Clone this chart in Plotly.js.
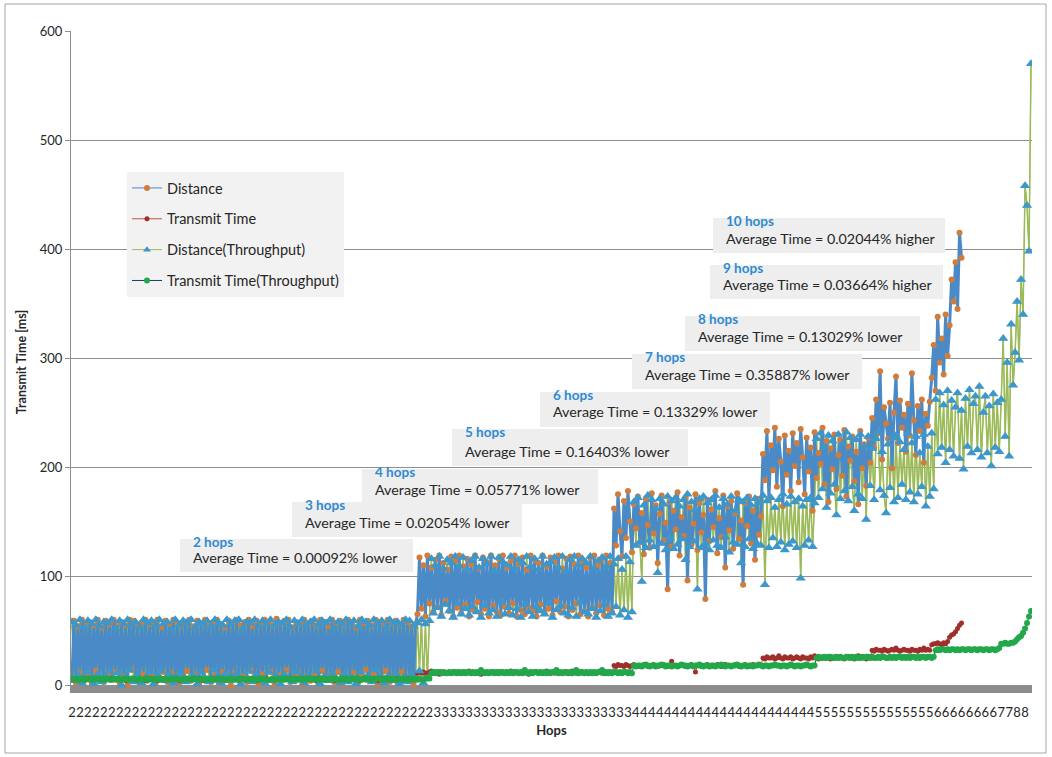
<!DOCTYPE html>
<html><head><meta charset="utf-8">
<script src="https://cdn.plot.ly/plotly-3.0.1.min.js"></script>
<style>html,body{margin:0;padding:0;background:#fff}#chart{width:1052px;height:757px}</style>
</head><body><div id="chart"></div>
<script>
// x categories: hop count (throughput routing) per data point
const hopLevels = [2, 3, 4, 5, 6, 7, 8];
const pointsPerHop = [181, 102, 92, 60, 33, 8, 8];

// Distance (shortest distance routing) - transmit time [ms]
const distance = [
6,59,2,54,11,60,4,57,9,58,1,55,13,60,7,53,3,59,10,56,
5,60,12,57,2,58,8,55,0,60,14,59,6,54,3,57,10,60,4,56,
9,58,1,60,7,53,12,59,3,56,11,60,5,57,2,55,8,58,13,60,
4,54,10,59,1,57,6,60,14,55,3,58,9,60,2,56,12,53,7,59,
0,57,11,60,5,55,8,58,3,60,13,54,6,59,1,56,10,60,4,58,
12,55,2,61,9,57,5,59,14,60,3,53,7,58,11,56,1,60,8,57,
4,59,10,55,2,60,13,58,6,54,9,60,3,57,12,59,1,56,7,60,
5,58,11,53,2,60,8,57,14,59,4,55,10,60,1,58,6,56,13,60,
3,57,9,59,2,55,12,60,5,58,8,54,1,56,
65,117,70,110,63,119,75,108,67,115,72,119,64,112,77,106,68,118,63,114,
71,119,66,109,74,116,63,111,69,119,76,107,65,117,70,113,63,119,73,110,
67,116,64,119,72,108,66,114,75,119,63,111,69,117,65,106,71,119,68,115,
63,112,74,119,66,109,70,117,64,113,77,119,67,107,72,116,63,118,69,111,
75,119,65,114,68,108,63,117,71,119,66,110,73,116,64,119,70,112,67,
162,128,175,141,118,169,135,178,150,122,166,144,173,131,158,120,171,147,126,176,
139,165,112,157,174,133,149,88,168,127,160,143,177,119,154,137,172,96,163,129,
148,175,124,167,140,156,79,170,132,161,145,178,121,153,136,174,108,164,142,169,
125,158,176,134,151,92,167,146,173,130,160,115,171,138,155,
212,188,233,171,220,197,236,182,226,205,164,229,193,215,178,231,201,222,186,235,
209,175,227,196,218,160,232,190,213,203,236,184,224,168,217,198,230,180,211,225,
192,234,173,219,206,228,187,214,166,233,199,221,183,227,204,
245,218,262,231,288,207,255,240,226,259,199,250,283,222,261,236,248,214,258,229,
286,243,211,256,233,262,204,249,238,260,
282,312,270,338,296,318,285,340,302,
330,372,352,388,345,415,392
];

// Transmit Time (shortest distance routing) [ms]
const transmitTime = [
5,6,5,5,6,5,4,6,5,5,6,5,6,5,5,6,4,5,6,5,
6,5,5,6,5,5,6,4,5,6,5,5,6,5,6,5,5,4,6,5,
5,6,5,4,5,6,5,6,5,5,6,5,5,6,4,5,6,5,5,6,
5,5,6,5,6,5,4,5,6,5,5,6,5,5,6,5,6,4,5,5,
6,5,5,6,4,5,6,5,5,6,5,6,5,4,5,6,5,5,6,5,
5,6,4,5,6,5,5,6,5,5,6,4,5,6,5,6,5,5,6,5,
6,5,5,4,6,5,6,5,5,6,5,5,4,6,5,5,6,5,6,5,
5,6,5,5,6,4,5,6,5,6,5,5,6,5,4,5,6,5,5,6,
5,6,5,5,6,5,4,6,5,6,5,5,6,5,
11,12,11,12,11,11,12,13,11,12,11,10,12,11,12,11,12,11,12,11,
12,11,11,12,12,11,13,11,12,11,11,12,10,12,11,12,11,12,11,12,
11,12,12,11,11,12,11,13,12,11,12,11,11,12,12,11,10,12,11,12,
12,11,12,11,12,13,11,11,12,11,12,12,11,11,12,11,12,11,13,12,
11,12,11,12,11,12,11,11,12,12,11,12,13,11,12,11,12,12,11,
18,17,19,18,18,17,19,18,17,18,19,18,18,17,18,19,18,17,18,18,
19,18,17,18,18,19,18,17,18,22,18,18,17,18,19,18,17,18,18,19,
18,12,18,19,17,18,18,19,18,17,18,18,19,18,17,18,19,18,18,17,
18,19,18,17,18,18,19,18,17,18,19,18,18,19,18,
25,24,26,25,25,26,24,25,27,25,24,26,25,25,26,24,25,26,25,24,
26,25,25,24,26,25,27,25,24,25,26,25,25,26,24,25,26,25,25,26,
25,24,26,25,26,25,24,25,27,25,26,25,24,26,25,
32,31,33,32,32,31,33,32,31,32,33,32,34,32,31,32,33,32,32,31,
33,32,32,31,33,32,34,32,33,32,
37,38,38,39,38,37,39,38,40,
44,46,47,49,52,55,57
];

// Distance (Throughput routing) [ms]
const distanceThroughput = [
58,4,55,9,60,2,53,12,59,6,56,1,60,10,54,3,58,8,57,13,
60,5,52,11,59,0,56,7,60,14,55,3,58,9,53,2,60,6,57,12,
59,1,54,8,60,13,56,4,58,10,51,2,60,7,55,11,59,3,57,5,
60,9,53,1,58,12,56,6,59,3,54,14,60,8,57,2,55,10,60,4,
56,7,59,11,60,1,52,5,58,13,57,3,60,9,54,6,59,2,56,12,
60,4,55,8,58,1,57,10,60,6,53,3,59,12,56,7,60,2,54,9,
58,5,60,13,55,1,59,8,57,4,60,11,52,6,58,2,56,10,60,3,
57,7,59,1,54,12,60,5,58,9,55,3,60,14,56,6,59,2,53,8,
60,4,57,11,58,1,55,7,60,3,59,10,54,5,57,13,60,2,56,6,
59,
116,66,110,71,118,63,107,74,115,68,112,62,118,75,109,65,117,70,106,64,
114,72,118,67,108,62,116,73,111,66,118,69,105,63,117,76,113,65,110,71,
118,64,107,70,115,62,112,74,118,67,109,63,116,72,106,68,118,65,111,75,
113,62,117,69,108,73,118,66,105,64,115,71,118,63,110,76,116,67,112,65,
118,70,107,62,114,68,117,74,109,63,118,66,111,72,116,64,106,69,118,62,
113,67,
168,128,172,131,95,165,126,174,133,170,127,162,103,171,130,166,124,173,135,169,
125,172,129,164,134,170,115,175,127,168,132,161,88,171,126,173,130,167,124,170,
133,174,128,163,126,171,136,166,122,173,131,160,129,170,112,168,127,172,134,165,
125,171,130,167,128,174,92,169,126,172,135,163,127,170,131,175,124,166,129,173,
132,168,126,171,98,164,128,170,133,172,127,167,
226,172,231,180,218,163,229,176,224,184,156,230,171,221,178,232,169,227,182,160,
225,175,230,171,219,152,228,183,217,170,226,232,179,214,174,158,221,181,227,168,
229,172,223,184,216,170,231,177,222,168,228,175,213,182,230,164,219,173,231,180,
262,212,268,218,257,204,270,216,261,210,255,268,208,252,198,263,219,271,213,258,
265,216,274,209,250,265,213,256,201,267,218,259,214,
262,318,228,296,210,331,275,305,
352,298,372,340,458,440,398,570
];

// Transmit Time (Throughput routing) [ms]
const transmitTimeThroughput = [
6,5,6,5,5,6,5,6,6,5,5,6,5,5,6,5,6,5,6,5,
5,6,5,6,5,5,6,5,6,5,6,6,5,5,6,5,5,6,5,6,
6,5,5,6,5,6,5,6,5,5,6,5,6,6,5,5,6,5,6,5,
5,6,6,5,5,6,5,5,6,5,6,5,5,6,6,5,6,5,5,6,
6,5,5,6,5,6,6,5,5,6,5,6,5,5,6,5,6,6,5,5,
5,6,5,5,6,5,6,5,6,6,5,5,6,5,5,6,5,6,5,6,
6,5,6,5,5,6,5,6,5,5,6,6,5,6,5,5,6,5,6,5,
5,6,5,6,6,5,5,6,5,6,5,5,6,5,6,6,5,5,6,5,
6,5,6,5,5,6,6,5,6,5,5,6,5,6,5,6,5,5,6,6,
6,
11,12,11,12,12,11,12,11,11,12,11,12,12,11,12,11,12,11,12,12,
11,12,11,12,11,14,12,11,12,11,12,12,11,12,11,12,12,11,12,11,
12,11,12,12,11,12,11,14,12,11,12,11,12,12,11,12,11,12,11,12,
11,12,12,14,11,12,11,12,12,11,12,11,12,14,11,12,12,11,12,11,
12,11,12,11,12,12,14,11,12,11,12,11,12,12,11,12,11,12,12,11,
12,11,
18,17,18,18,17,18,19,18,17,18,18,17,18,18,19,18,17,18,18,17,
18,18,17,18,19,18,18,17,18,18,17,18,18,19,18,17,18,18,17,18,
18,17,18,18,19,18,17,18,18,17,18,18,19,18,17,18,18,17,18,18,
17,18,18,19,18,17,18,18,17,18,18,19,18,18,17,18,18,17,18,19,
18,17,18,18,17,18,18,19,18,17,18,18,
25,26,25,25,26,25,26,26,25,25,26,25,26,25,25,26,26,25,26,25,
26,25,25,26,25,26,26,25,26,25,25,26,25,26,26,25,25,26,25,26,
25,26,26,25,26,25,26,25,26,26,25,26,25,26,26,25,26,26,25,26,
32,33,32,33,33,32,33,32,33,33,32,33,32,33,33,32,33,33,32,33,
33,32,33,33,32,33,33,32,33,33,32,33,34,
38,38,39,38,38,39,39,40,
42,44,45,48,52,57,63,68
];

// Annotation texts
const noteHops = ['2 hops','3 hops','4 hops','5 hops','6 hops','7 hops','8 hops','9 hops','10 hops'];
const notePct = ['0.00092% lower','0.02054% lower','0.05771% lower','0.16403% lower','0.13329% lower','0.35887% lower','0.13029% lower','0.03664% higher','0.02044% higher'];

// ---------- build ----------
const hops = [];
hopLevels.forEach((h, k) => { for (let j = 0; j < pointsPerHop[k]; j++) hops.push(h); });
const idx = hops.map((_, i) => i);
const idxD = idx.slice(0, distance.length);
const tickvals = idx.filter(i => i % 4 === 0);
const ticktext = tickvals.map(i => String(hops[i]));

const FONT = 'Lato, "Open Sans", "Liberation Sans", sans-serif';
const L = 71, R = 1032, T = 31, B = 693;
const px2x = X => (X - L) / (R - L);
const px2y = Y => (B - Y) / (B - T);

const C = {dist: '#4a8ac6', distMk: '#d07c3c', tt: '#c0504d', ttMk: '#a02f2c',
           dT: '#9bbb59', dTMk: '#3d97cb', ttT: '#1f3864', ttTMk: '#22a84a'};
const triMarker = {symbol: 'triangle-up', size: 9, color: C.dTMk, line: {width: 0}};
const triLegend = {symbol: 'triangle-up', size: 7, color: C.dTMk, line: {width: 0}};

const traces = [
  // dense line layers (many overlapping points in the original chart)
  {x: idx, y: distanceThroughput, type: 'scatter', mode: 'lines', showlegend: false,
   line: {color: C.dT, width: 1.5, simplify: false}},
  {x: idx, y: distanceThroughput, name: 'Distance(Throughput)', type: 'scatter', mode: 'lines+markers',
   line: {color: C.dT, width: 1, simplify: false}, marker: triLegend, legendrank: 3, legendgroup: 'c'},
  {x: idxD, y: distance, type: 'scatter', mode: 'lines', showlegend: false,
   line: {color: C.dist, width: 3, simplify: false}},
  {x: idxD, y: distance, name: 'Distance', type: 'scatter', mode: 'lines+markers',
   line: {color: C.dist, width: 1, simplify: false}, marker: {symbol: 'circle', size: 6, color: C.distMk}, legendrank: 1, legendgroup: 'a'},
  {x: idxD, y: transmitTime, name: 'Transmit Time', type: 'scatter', mode: 'lines+markers',
   line: {color: C.tt, width: 1}, marker: {symbol: 'circle', size: 5, color: C.ttMk}, legendrank: 2, legendgroup: 'b'},
  {x: idx, y: distanceThroughput, type: 'scatter', mode: 'markers', marker: triMarker, showlegend: false},
  {x: idx, y: transmitTimeThroughput, name: 'Transmit Time(Throughput)', type: 'scatter', mode: 'lines+markers',
   line: {color: C.ttT, width: 1}, marker: {symbol: 'circle', size: 6, color: C.ttTMk}, legendrank: 4, legendgroup: 'd'}
];

// note boxes: [left, right, titleY, textY] in pixels
const notePos = [
  [180, 413, 542, 557], [292, 522, 505, 522], [362, 598, 472, 489],
  [452, 688, 432, 451], [540, 770, 395, 412], [632, 862, 357, 374],
  [685, 920, 319, 336], [710, 943, 268, 284], [713, 945, 221, 238]
];

const shapes = [
  {type: 'rect', xref: 'paper', yref: 'paper', x0: px2x(5), x1: px2x(1046), y0: px2y(753), y1: px2y(4),
   line: {color: '#a6a6a6', width: 1}, fillcolor: 'rgba(0,0,0,0)', layer: 'below'},
  {type: 'rect', xref: 'paper', yref: 'y', x0: 0, x1: 1, y0: -0.5, y1: -7.2,
   line: {width: 0}, fillcolor: '#8c8c8c', layer: 'below'}
];
const annotations = [];
notePos.forEach((p, k) => {
  shapes.push({type: 'rect', xref: 'paper', yref: 'paper', x0: px2x(p[0]), x1: px2x(p[1]),
    y0: px2y(p[3] + 15), y1: px2y(p[2] - 3), line: {width: 0}, fillcolor: '#eeeeee', layer: 'above'});
  annotations.push({xref: 'paper', yref: 'paper', x: px2x(p[0] + 11), y: px2y(p[2]), xanchor: 'left', yanchor: 'middle',
    text: '<b>' + noteHops[k] + '</b>', showarrow: false, font: {family: FONT, size: 13.5, color: '#2e8bd1'}});
  annotations.push({xref: 'paper', yref: 'paper', x: px2x(p[0] + 11), y: px2y(p[3]), xanchor: 'left', yanchor: 'middle',
    text: 'Average Time = ' + notePct[k], showarrow: false, font: {family: FONT, size: 14.3, color: '#262626'}});
});

const layout = {
  width: 1052, height: 757,
  margin: {l: L, r: 1052 - R, t: T, b: 757 - B},
  paper_bgcolor: '#ffffff', plot_bgcolor: '#ffffff',
  font: {family: FONT, size: 13, color: '#262626'},
  showlegend: true,
  legend: {x: px2x(127), y: px2y(172), xanchor: 'left', yanchor: 'top', bgcolor: '#f2f2f2', borderwidth: 0,
    traceorder: 'grouped', tracegroupgap: 9, font: {family: FONT, size: 14.5, color: '#262626'}},
  xaxis: {range: [-0.5, idx.length - 0.5], tickmode: 'array', tickvals: tickvals, ticktext: ticktext, tickangle: 0,
    showgrid: false, zeroline: false, showline: false, ticks: '', ticklabelstandoff: 10,
    tickfont: {family: FONT, size: 13, color: '#262626'},
    title: {text: '<b>Hops</b>', font: {family: FONT, size: 13, color: '#262626'}, standoff: 6}, automargin: false},
  yaxis: {range: [-7.2, 600], tickmode: 'array', tickvals: [0, 100, 200, 300, 400, 500, 600],
    showgrid: true, gridcolor: '#8f8f8f', gridwidth: 1, zeroline: false, showline: true, linecolor: '#8f8f8f', linewidth: 1,
    ticks: 'outside', ticklen: 5, tickcolor: '#8f8f8f', tickfont: {family: FONT, size: 13, color: '#262626'},
    title: {text: '<b>Transmit Time [ms]</b>', font: {family: FONT, size: 12.5, color: '#262626'}, standoff: 10}, automargin: false},
  shapes: shapes,
  annotations: annotations
};

Plotly.newPlot('chart', traces, layout, {staticPlot: true, displayModeBar: false});
</script>
</body></html>
